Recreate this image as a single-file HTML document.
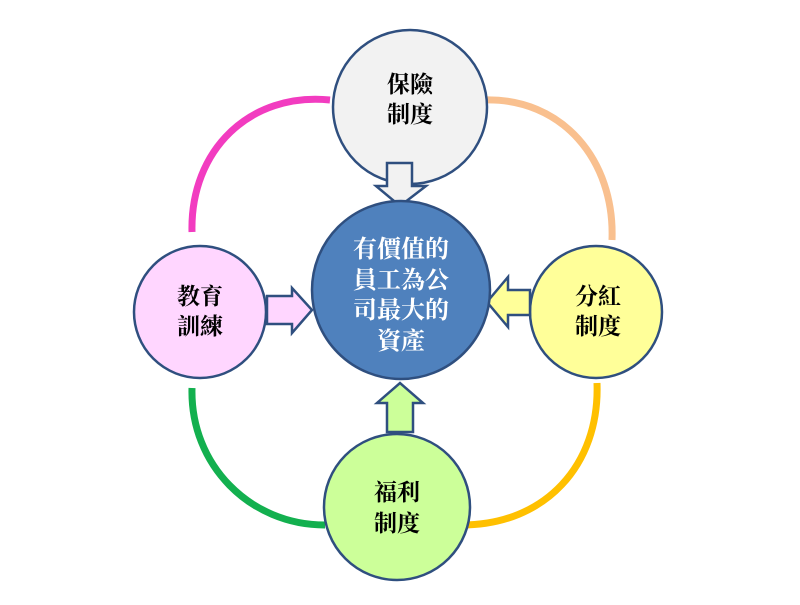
<!DOCTYPE html>
<html><head><meta charset="utf-8"><style>
html,body{margin:0;padding:0;background:#fff;}
svg text{font-family:"Liberation Serif","Noto Serif CJK SC","Noto Sans CJK TC",serif;font-weight:bold;}
</style></head><body>
<svg width="800" height="600" xmlns="http://www.w3.org/2000/svg">
<g fill="none" stroke-width="7" stroke-linecap="butt">
<path d="M330,100 C250,92 190,150 192,232" stroke="#f23cc0"/>
<path d="M483,100 C562,97 615,160 612,240" stroke="#f9c08f"/>
<path d="M192,388 C190,465 250,525 325,525" stroke="#13b04f"/>
<path d="M597,383 C600,465 545,525 462,525" stroke="#ffc000"/>
</g>
<g stroke="#2f4f7f" stroke-width="2.5">
<circle cx="410" cy="107" r="77" fill="#f2f2f2"/>
<circle cx="200" cy="312" r="66" fill="#ffd6ff"/>
<circle cx="596" cy="312" r="66" fill="#ffff99"/>
<circle cx="397" cy="507" r="73" fill="#ccff99"/>
<path d="M387,163 L412,163 L412,186 L426,186 L400,206 L376,186 L387,186 Z" fill="#f2f2f2"/>
<path d="M267,296 L292,296 L292,288 L312,310 L292,333 L292,324 L267,324 Z" fill="#ffd6ff"/>
<path d="M530,290 L508,290 L508,277 L487,302 L508,327 L508,315 L530,315 Z" fill="#ffff99"/>
<path d="M387,432 L413,432 L413,403 L423,403 L400,383 L377,403 L387,403 Z" fill="#ccff99"/>
<circle cx="401" cy="290" r="89" fill="#4f81bd"/>
</g>
<g font-size="23" text-anchor="middle">
<text x="410" y="92" fill="#000">保險</text>
<text x="410" y="122" fill="#000">制度</text>
<text x="200" y="304" fill="#000">教育</text>
<text x="200" y="334" fill="#000">訓練</text>
<text x="598" y="304" fill="#000">分紅</text>
<text x="598" y="334" fill="#000">制度</text>
<text x="397" y="500" fill="#000">福利</text>
<text x="397" y="531" fill="#000">制度</text>
</g>
<g font-size="24" text-anchor="middle" fill="#fff">
<text x="401" y="257">有價值的</text>
<text x="401" y="288">員工為公</text>
<text x="401" y="318">司最大的</text>
<text x="401" y="349">資產</text>
</g>
</svg>
</body></html>
